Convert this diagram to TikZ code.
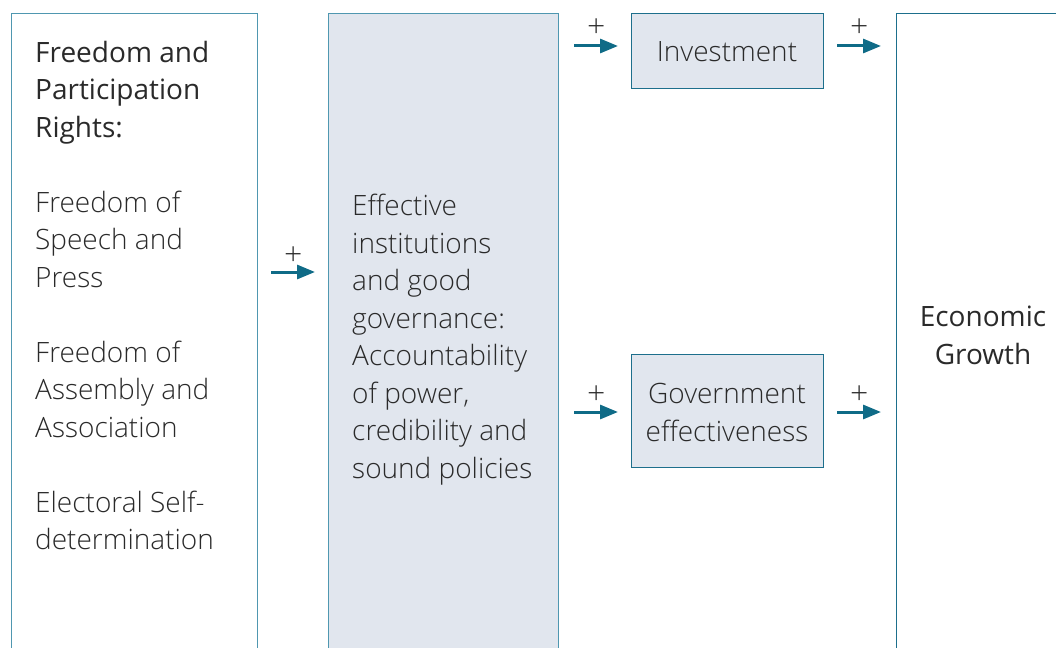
\documentclass[tikz,border=0pt]{standalone}
\usepackage{fontspec}
\usetikzlibrary{arrows.meta}
\IfFontExistsTF{Open Sans Light}
  {\setmainfont{Open Sans Light}[BoldFont=Open Sans]\newfontfamily\regfont{Open Sans}}
  {\setmainfont{Open Sans}\newfontfamily\regfont{Open Sans}}
\definecolor{tealline}{HTML}{1D6F8C}
\definecolor{tealsoft}{HTML}{4F97B0}
\definecolor{arrowteal}{HTML}{0F6B87}
\definecolor{panelfill}{HTML}{E1E6EE}
\definecolor{ink}{HTML}{2A2A2A}
\tikzset{
  panel/.style={draw=#1, line width=1.3pt, rectangle, inner sep=0pt},
  bodytext/.style={text=ink, inner sep=0pt, align=left,
    font=\fontsize{28}{37.5}\selectfont},
  centertext/.style={text=ink, inner sep=0pt, align=center,
    font=\fontsize{28}{37.5}\selectfont},
  posarrow/.style={draw=arrowteal, line width=3pt,
    -{Triangle[length=18pt,width=14pt]}},
  plussign/.style={text=ink, inner sep=0pt, font=\fontsize{32}{32}\selectfont}
}
\begin{document}
\begin{tikzpicture}[x=1pt,y=-1pt]
\useasboundingbox (0,0) rectangle (1056,647);
\clip (0,0) rectangle (1056,647);

% columns (open at the bottom / right, running past the frame)
\node[panel=tealsoft, minimum width=246pt, minimum height=700pt,
      anchor=north west] (rights) at (11,13) {};
\node[panel=tealsoft, fill=panelfill, minimum width=230pt, minimum height=700pt,
      anchor=north west] (institutions) at (328,13) {};
\node[panel=tealline, fill=panelfill, minimum width=192pt, minimum height=75pt,
      anchor=north west] (investment) at (631,13) {};
\node[panel=tealline, fill=panelfill, minimum width=192pt, minimum height=113pt,
      anchor=north west] (govt) at (631,354) {};
\node[panel=tealline, minimum width=250pt, minimum height=700pt,
      anchor=north west] (growth) at (896,13) {};

% texts
\node[bodytext, anchor=north west] (rightstext) at (35,41)
  {{\regfont Freedom and}\\{\regfont Participation}\\{\regfont Rights:}\\[37.5pt]
   Freedom of\\Speech and\\Press\\[37.5pt]
   Freedom of\\Assembly and\\Association\\[37.5pt]
   Electoral Self-\\determination};
\node[bodytext, anchor=north west] (insttext) at (352,194)
  {Effective\\institutions\\and good\\governance:\\Accountability\\of power,\\credibility and\\sound policies};
\node[centertext] (invtext) at (727,52) {Investment};
\node[centertext] (govtext) at (727,412.5) {Government\\effectiveness};
\node[centertext, anchor=north] (growthtext) at (983,306)
  {{\regfont Economic}\\{\regfont Growth}};

% positive links
\coordinate (ymain) at (0,272);
\coordinate (yinv) at (0,46);
\coordinate (ygov) at (0,412);
\draw[posarrow] ([xshift=13pt]rights.east |- ymain) -- ([xshift=-13pt]institutions.west |- ymain)
  node[plussign, midway, yshift=16pt] {+};
\draw[posarrow] ([xshift=15pt]institutions.east |- yinv) -- ([xshift=-13pt]investment.west |- yinv)
  node[plussign, midway, yshift=18pt] {+};
\draw[posarrow] ([xshift=13pt]investment.east |- yinv) -- ([xshift=-15pt]growth.west |- yinv)
  node[plussign, midway, yshift=18pt] {+};
\draw[posarrow] ([xshift=15pt]institutions.east |- ygov) -- ([xshift=-13pt]govt.west |- ygov)
  node[plussign, midway, yshift=17pt] {+};
\draw[posarrow] ([xshift=13pt]govt.east |- ygov) -- ([xshift=-15pt]growth.west |- ygov)
  node[plussign, midway, yshift=17pt] {+};
\end{tikzpicture}
\end{document}
